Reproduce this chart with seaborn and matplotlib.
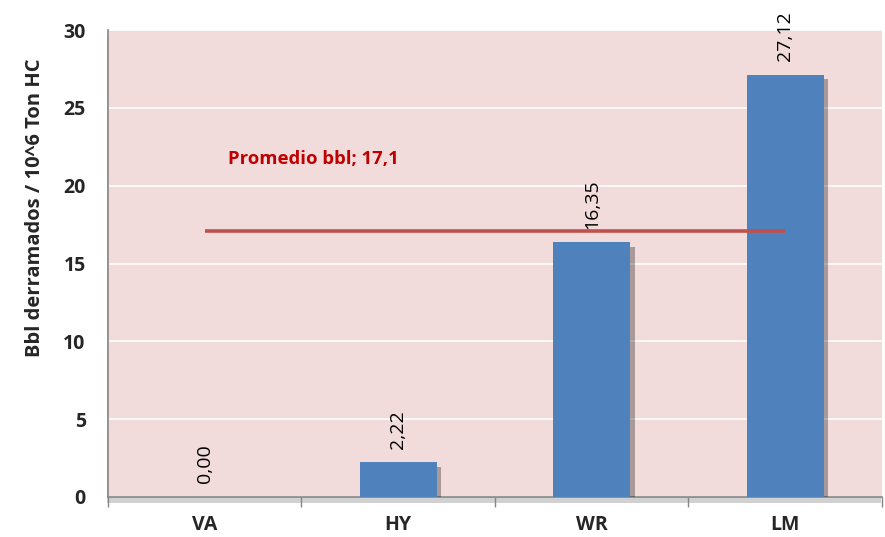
import matplotlib
matplotlib.use("Agg")
import matplotlib.pyplot as plt
import matplotlib.patheffects as pe
from matplotlib.ticker import FixedLocator
import seaborn as sns
import pandas as pd

categories = ["VA", "HY", "WR", "LM"]
values = [0.00, 2.22, 16.35, 27.12]
label_texts = ["0,00", "2,22", "16,35", "27,12"]
promedio = 17.1
promedio_text = "Promedio bbl; 17,1"
y_ticks = [0, 5, 10, 15, 20, 25, 30]

sns.set_theme(style="white")
plt.rcParams["font.family"] = ["Open Sans", "DejaVu Sans"]

df = pd.DataFrame({"categoria": categories, "valor": values})

fig = plt.figure(figsize=(8.85, 5.37), dpi=100)
ax = fig.add_axes([0.122, 0.0745, 0.8746, 0.8696])
ax.set_facecolor("#F2DCDB")
ax.patch.set_path_effects([pe.SimplePatchShadow(offset=(-1, -4), shadow_rgbFace="#000000",
                                                alpha=0.18), pe.Normal()])

sns.barplot(data=df, x="categoria", y="valor", color="#4F81BD", saturation=1,
            width=0.40, ax=ax, zorder=3)
for patch in ax.patches:
    patch.set_edgecolor("none")
    patch.set_path_effects([pe.SimplePatchShadow(offset=(3, -3), shadow_rgbFace="#000000",
                                                 alpha=0.3), pe.Normal()])

# average line from first to last category centre
ax.plot([0, len(categories) - 1], [promedio, promedio], color="#C0504D", lw=2.6,
        zorder=4, solid_capstyle="butt")
ax.text(0.12, 21.7, promedio_text, color="#C00000", fontsize=13.3, fontweight="bold",
        ha="left", va="center", zorder=5)

# value labels, rotated, above each bar
for i, (v, t) in enumerate(zip(values, label_texts)):
    ax.annotate(t, (i, v), xytext=(0, 10), textcoords="offset points",
                rotation=90, ha="center", va="bottom", fontsize=14, color="black",
                zorder=5)

ax.set_xlim(-0.5, len(categories) - 0.5)
ax.set_ylim(0, 30)
ax.set_yticks(y_ticks)
ax.set_yticklabels([str(t) for t in y_ticks], fontsize=14, fontweight="bold")
ax.yaxis.grid(True, color="white", lw=1.2, zorder=0)
ax.set_axisbelow(True)

ax.set_xticks(range(len(categories)))
ax.set_xticklabels(categories, fontsize=14, fontweight="bold")
ax.tick_params(axis="x", which="major", length=0, pad=13)
ax.xaxis.set_minor_locator(FixedLocator([i - 0.5 for i in range(len(categories) + 1)]))
ax.tick_params(axis="x", which="minor", length=7, color="#868686", width=1, direction="out")
ax.tick_params(axis="y", length=7, color="#868686", width=1, direction="out", pad=9)
ax.xaxis.set_tick_params(which="both", bottom=True)

ax.set_xlabel("")
ax.set_ylabel("Bbl derramados / 10^6 Ton HC", fontsize=14.5, fontweight="bold")
ax.yaxis.set_label_coords(-0.082, 0.62)

for side in ["top", "right"]:
    ax.spines[side].set_visible(False)
for side in ["left", "bottom"]:
    ax.spines[side].set_color("#868686")
    ax.spines[side].set_linewidth(1.2)

fig.savefig("out.png", dpi=100, facecolor="white")
